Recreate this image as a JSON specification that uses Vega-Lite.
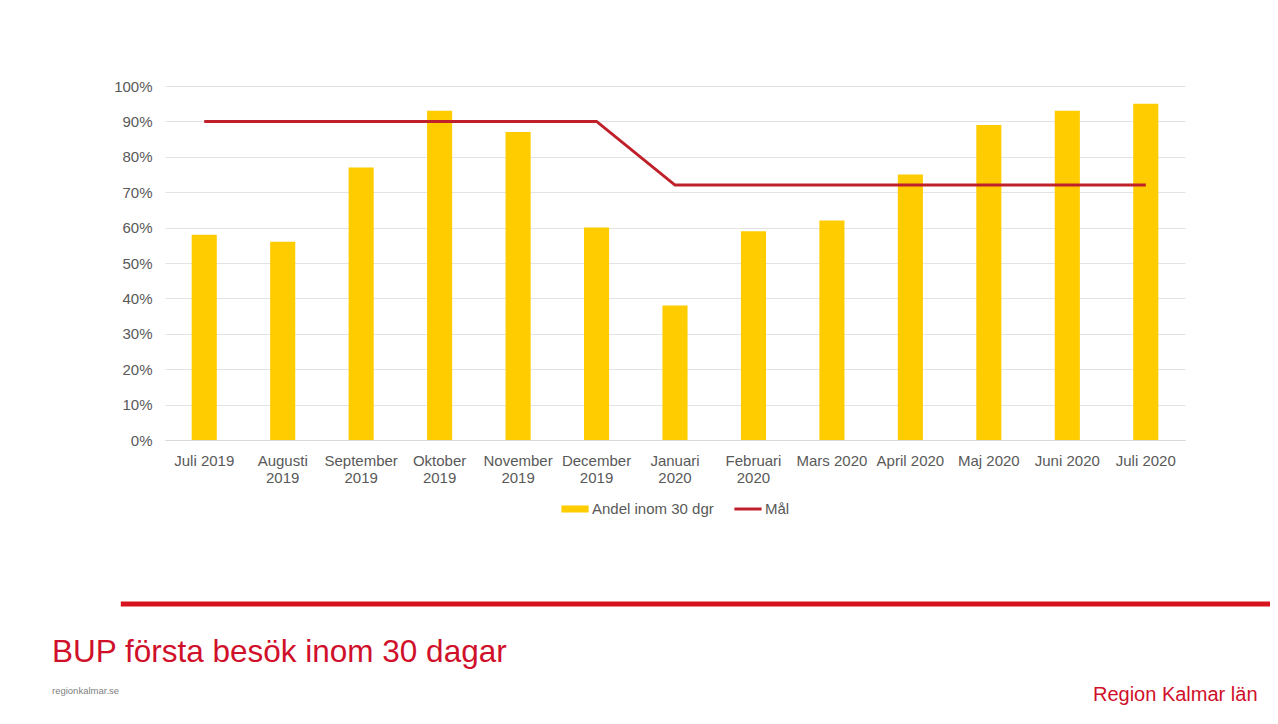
{
  "$schema": "https://vega.github.io/schema/vega-lite/v6.json",
  "padding": {"left": 52, "top": 79, "right": 8, "bottom": 0},
  "background": "white",
  "config": {
    "font": "Liberation Sans",
    "view": {"stroke": null},
    "legend": {"layout": {"bottom": {"anchor": "middle", "bounds": "full"}}}
  },
  "spacing": 82,
  "resolve": {"scale": {"color": "independent"}, "legend": {"color": "independent"}},
  "title": {"text": "Region Kalmar län", "orient": "bottom", "anchor": "end", "color": "#D0102A", "fontSize": 20, "fontWeight": "normal", "dy": -14, "dx": -15},
  "vconcat": [
    {
      "width": 1020,
      "height": 354,
      "data": {"values": [
        {"month": "Juli 2019", "andel": 0.58, "mal": 0.90},
        {"month": "Augusti 2019", "andel": 0.56, "mal": 0.90},
        {"month": "September 2019", "andel": 0.77, "mal": 0.90},
        {"month": "Oktober 2019", "andel": 0.93, "mal": 0.90},
        {"month": "November 2019", "andel": 0.87, "mal": 0.90},
        {"month": "December 2019", "andel": 0.60, "mal": 0.90},
        {"month": "Januari 2020", "andel": 0.38, "mal": 0.72},
        {"month": "Februari 2020", "andel": 0.59, "mal": 0.72},
        {"month": "Mars 2020", "andel": 0.62, "mal": 0.72},
        {"month": "April 2020", "andel": 0.75, "mal": 0.72},
        {"month": "Maj 2020", "andel": 0.89, "mal": 0.72},
        {"month": "Juni 2020", "andel": 0.93, "mal": 0.72},
        {"month": "Juli 2020", "andel": 0.95, "mal": 0.72}
      ]},
      "encoding": {
        "x": {
          "field": "month", "type": "nominal", "sort": null,
          "scale": {"paddingInner": 0.68, "paddingOuter": 0.34},
          "axis": {
            "title": null, "labelAngle": 0, "ticks": false,
            "domainColor": "#d9d9d9", "labelColor": "#595959",
            "labelFontSize": 15, "labelPadding": 13, "labelLineHeight": 17,
            "labelOverlap": false,
            "labelExpr": "length(datum.label) > 10 ? split(datum.label, ' ') : datum.label"
          }
        }
      },
      "layer": [
        {
          "mark": {"type": "bar", "color": "#FFCC00"},
          "encoding": {
            "y": {
              "field": "andel", "type": "quantitative",
              "scale": {"domain": [0, 1]},
              "axis": {
                "title": null, "format": ".0%",
                "values": [0, 0.1, 0.2, 0.3, 0.4, 0.5, 0.6, 0.7, 0.8, 0.9, 1],
                "gridColor": "#e3e3e3", "domain": false, "ticks": false,
                "labelOverlap": false,
                "labelPadding": 13, "labelFontSize": 15, "labelColor": "#595959"
              }
            },
            "color": {
              "datum": "Andel inom 30 dgr",
              "scale": {"domain": ["Andel inom 30 dgr", "Mål"], "range": ["#FFCC00", "#C0202A"]},
              "legend": {
                "title": null, "orient": "bottom", "direction": "horizontal",
                "symbolSize": 740, "labelFontSize": 15, "labelColor": "#595959",
                "labelOffset": 3, "columnPadding": 20, "offset": 10,
                "encode": {"symbols": {"update": {
                  "shape": {"signal": "datum.value === 'Mål' ? 'M-1,-0.11H1V0.11H-1Z' : 'M-1,-0.26H1V0.26H-1Z'"},
                  "fill": {"scale": "color", "field": "value"},
                  "stroke": {"value": "transparent"},
                  "strokeWidth": {"value": 0},
                  "opacity": {"value": 1}
                }}}
              }
            }
          }
        },
        {
          "mark": {"type": "line", "strokeWidth": 3},
          "encoding": {
            "y": {
              "field": "mal", "type": "quantitative",
              "axis": {
                "title": null, "format": ".0%",
                "values": [0, 0.1, 0.2, 0.3, 0.4, 0.5, 0.6, 0.7, 0.8, 0.9, 1],
                "gridColor": "#e3e3e3", "domain": false, "ticks": false,
                "labelOverlap": false,
                "labelPadding": 13, "labelFontSize": 15, "labelColor": "#595959"
              }
            },
            "color": {"datum": "Mål"}
          }
        }
      ]
    },
    {
      "width": 1105,
      "height": 10,
      "data": {"values": [{"element": "footer"}]},
      "mark": {"type": "rule", "color": "#D7141E", "strokeWidth": 5},
      "encoding": {
        "x": {"datum": -0.04, "type": "quantitative", "scale": {"domain": [0, 1]}, "axis": null},
        "x2": {"datum": 1},
        "y": {"datum": 0.5, "type": "quantitative", "scale": {"domain": [0, 1]}, "axis": null}
      },
      "title": {
        "text": "BUP första besök inom 30 dagar", "subtitle": "regionkalmar.se",
        "orient": "bottom", "anchor": "start", "frame": "group",
        "fontSize": 31.5, "fontWeight": "normal", "color": "#D0102A",
        "subtitleColor": "#7f7f7f", "subtitleFontSize": 9.5, "subtitlePadding": 17,
        "offset": 28, "dx": -113
      }
    }
  ]
}
